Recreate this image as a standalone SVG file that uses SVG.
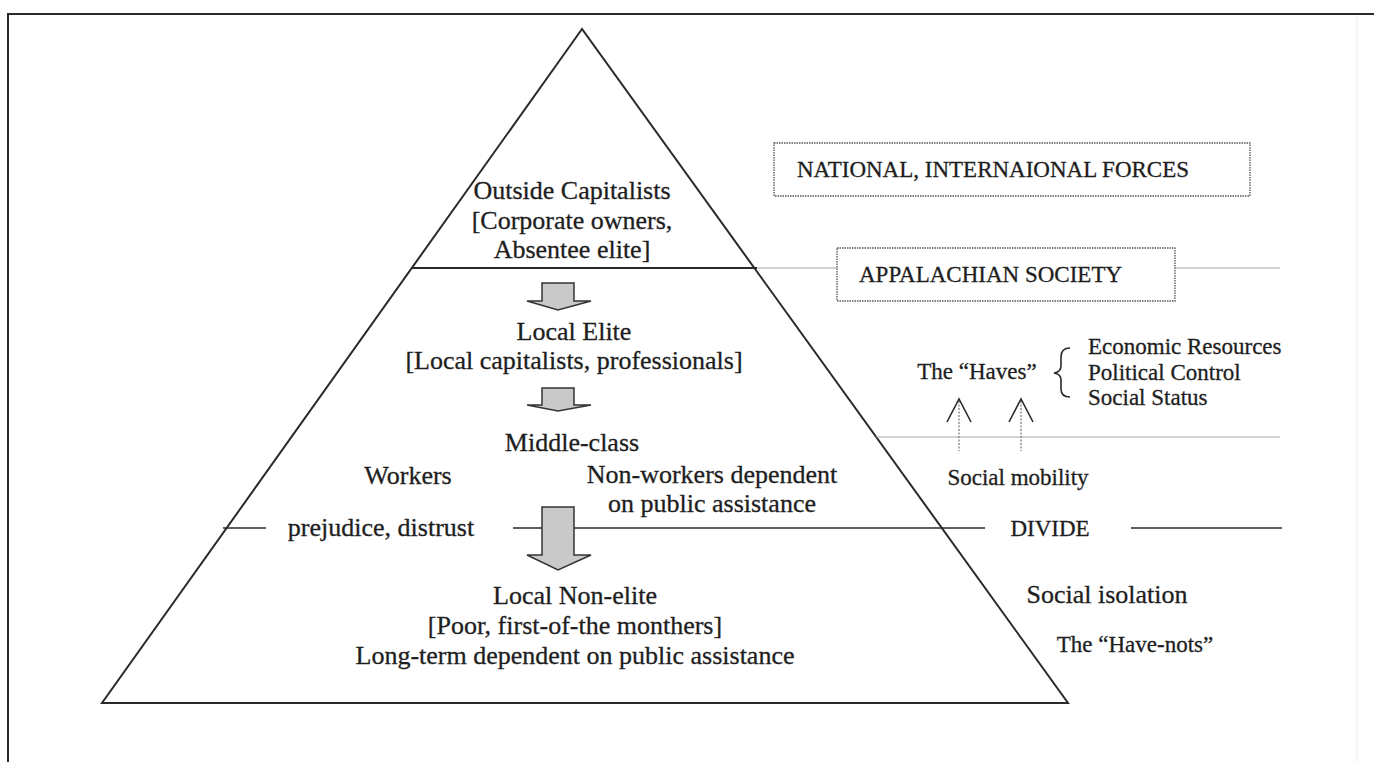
<svg xmlns="http://www.w3.org/2000/svg" width="1374" height="762" viewBox="0 0 1374 762">
  <style>
    text { font-family: "Liberation Serif", "Times New Roman", serif; fill: #1e1e1e; stroke: #1e1e1e; stroke-width: 0.3; }
    .big { font-size: 26px; }
    .mid { font-size: 23px; }
    .c { text-anchor: middle; }
    .edge { stroke: #2a2a2a; stroke-width: 2; fill: none; }
    .thin { stroke: #2a2a2a; stroke-width: 1.6; fill: none; }
    .faint { stroke: #a8a8a8; stroke-width: 1; fill: none; }
    .dotbox { fill: none; stroke: #555; stroke-width: 1.3; stroke-dasharray: 1.5 1; }
    .block { fill: #c9c9c9; stroke: #333; stroke-width: 1.5; stroke-linejoin: miter; }
    .shaft { stroke: #888; stroke-width: 1.4; stroke-dasharray: 2 1.5; fill: none; }
    .head { stroke: #2a2a2a; stroke-width: 1.6; fill: none; }
  </style>

  <rect width="1374" height="762" fill="#ffffff"/>

  <!-- page frame -->
  <g id="frame">
    <line x1="7" y1="14" x2="1374" y2="14" class="edge"/>
    <line x1="8" y1="14" x2="8" y2="762" class="edge"/>
    <line x1="1357" y1="16" x2="1357" y2="762" stroke="#ececec" stroke-width="1"/>
  </g>

  <!-- pyramid outline and tier separator -->
  <g id="pyramid">
    <polygon points="582,29 102,703 1068,703" class="edge"/>
    <line x1="411" y1="268" x2="757" y2="268" class="edge"/>
  </g>

  <!-- connectors: separator lines, flow arrows, mobility arrows -->
  <g id="connectors">
    <!-- society boundary extending to the right -->
    <line x1="757" y1="268" x2="837" y2="268" class="faint"/>
    <line x1="1175" y1="268" x2="1280" y2="268" class="faint"/>
    <!-- haves boundary -->
    <line x1="876" y1="437" x2="1280" y2="437" class="faint"/>
    <!-- divide line -->
    <line x1="223" y1="528" x2="266" y2="528" class="thin"/>
    <line x1="513" y1="528" x2="985" y2="528" class="thin"/>
    <line x1="1131" y1="528" x2="1282" y2="528" class="thin"/>

    <!-- downward block arrows -->
    <polygon points="542,283 574,283 574,301 591,301 558,310 527,301 542,301" class="block"/>
    <polygon points="542,388 574,388 574,405 591,405 558,411 527,405 542,405" class="block"/>
    <polygon points="542,507 574,507 574,555 591,555 558,570 527,555 542,555" class="block"/>

    <!-- social mobility arrows -->
    <line x1="959" y1="401" x2="959" y2="451" class="shaft"/>
    <polyline points="947,422 959,399 971,422" class="head"/>
    <line x1="1021" y1="401" x2="1021" y2="451" class="shaft"/>
    <polyline points="1009,422 1021,399 1033,422" class="head"/>

    <!-- brace -->
    <path d="M1070,348 Q1061,348 1061,357 L1061,366 Q1061,372 1054,373 Q1061,374 1061,380 L1061,389 Q1061,397 1070,397" class="thin"/>
  </g>

  <g id="outside-capitalists">
    <text x="572" y="199" class="big c">Outside Capitalists</text>
    <text x="572" y="229" class="big c">[Corporate owners,</text>
    <text x="572" y="258" class="big c">Absentee elite]</text>
  </g>

  <g id="national-forces">
    <rect x="774" y="143" width="476" height="53" class="dotbox"/>
    <text x="797" y="177" class="mid">NATIONAL, INTERNAIONAL FORCES</text>
  </g>

  <g id="appalachian-society">
    <rect x="837" y="248" width="338" height="53" class="dotbox"/>
    <text x="859" y="282" class="mid">APPALACHIAN SOCIETY</text>
  </g>

  <g id="local-elite">
    <text x="574" y="340" class="big c">Local Elite</text>
    <text x="574" y="369" class="big c">[Local capitalists, professionals]</text>
  </g>

  <g id="middle-class">
    <text x="572" y="451" class="big c">Middle-class</text>
  </g>

  <g id="workers">
    <text x="408" y="484" class="big c">Workers</text>
  </g>

  <g id="non-workers">
    <text x="712" y="483" class="big c">Non-workers dependent</text>
    <text x="712" y="512" class="big c">on public assistance</text>
  </g>

  <g id="prejudice">
    <text x="381" y="536" class="big c">prejudice, distrust</text>
  </g>

  <g id="divide">
    <text x="1050" y="536" class="mid c">DIVIDE</text>
  </g>

  <g id="local-non-elite">
    <text x="575" y="604" class="big c">Local Non-elite</text>
    <text x="575" y="634" class="big c">[Poor, first-of-the monthers]</text>
    <text x="575" y="664" class="big c">Long-term dependent on public assistance</text>
  </g>

  <g id="haves">
    <text x="977" y="379" class="mid c">The “Haves”</text>
    <text x="1088" y="354" class="mid">Economic Resources</text>
    <text x="1088" y="380" class="mid">Political Control</text>
    <text x="1088" y="405" class="mid">Social Status</text>
  </g>

  <g id="social-mobility">
    <text x="1018" y="485" class="mid c">Social mobility</text>
  </g>

  <g id="social-isolation">
    <text x="1107" y="603" class="big c">Social isolation</text>
  </g>

  <g id="have-nots">
    <text x="1135" y="652" class="mid c">The “Have-nots”</text>
  </g>
</svg>
